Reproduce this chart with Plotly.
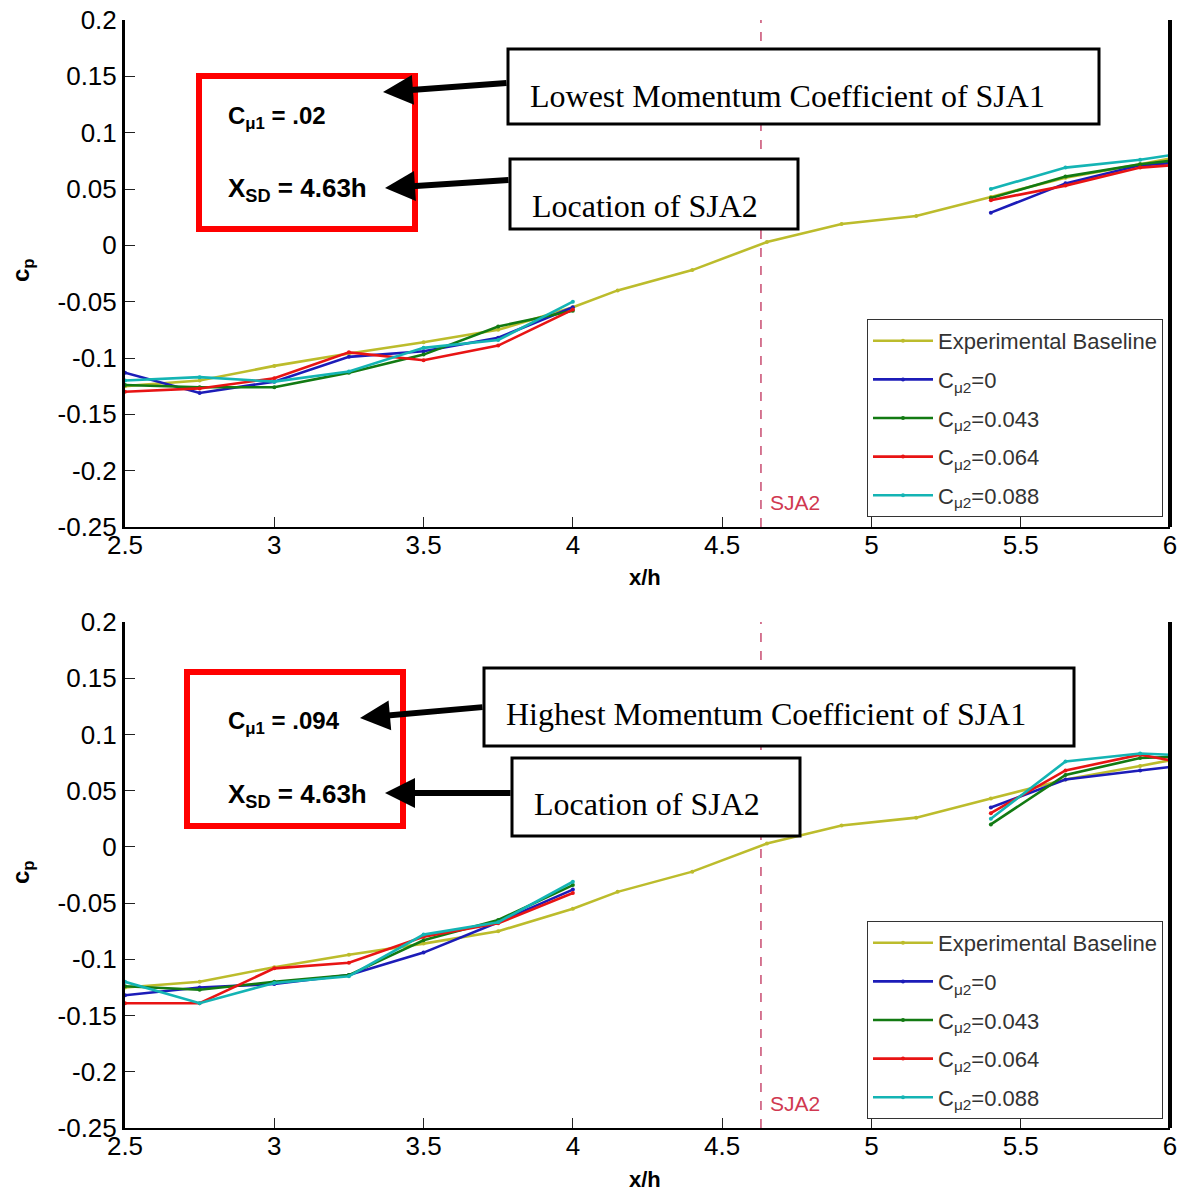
import plotly.graph_objects as go

W, H = 1188, 1192

# ---------------- data ----------------
x_base = [2.5, 2.75, 3.0, 3.25, 3.5, 3.75, 4.0, 4.15, 4.4, 4.65, 4.9, 5.15, 5.4, 5.65, 5.9, 6.0]
cp_base = [-0.125, -0.120, -0.107, -0.096, -0.086, -0.075, -0.055, -0.040, -0.022, 0.003,
           0.019, 0.026, 0.043, 0.060, 0.072, 0.077]

x_act = [2.5, 2.75, 3.0, 3.25, 3.5, 3.75, 4.0, None, 5.4, 5.65, 5.9, 6.0]

# top panel: C_mu1 = .02
top_c0 = [-0.113, -0.131, -0.121, -0.099, -0.094, -0.082, -0.055, None, 0.029, 0.055, 0.071, 0.073]
top_c043 = [-0.124, -0.126, -0.126, -0.113, -0.097, -0.072, -0.058, None, 0.042, 0.061, 0.072, 0.075]
top_c064 = [-0.130, -0.127, -0.118, -0.095, -0.102, -0.089, -0.057, None, 0.040, 0.053, 0.069, 0.071]
top_c088 = [-0.120, -0.117, -0.121, -0.112, -0.091, -0.084, -0.050, None, 0.050, 0.069, 0.076, 0.080]

# bottom panel: C_mu1 = .094
bot_c0 = [-0.132, -0.125, -0.122, -0.114, -0.094, -0.067, -0.038, None, 0.035, 0.060, 0.068, 0.071]
bot_c043 = [-0.124, -0.127, -0.120, -0.114, -0.083, -0.065, -0.034, None, 0.020, 0.064, 0.079, 0.080]
bot_c064 = [-0.139, -0.139, -0.108, -0.103, -0.080, -0.068, -0.041, None, 0.030, 0.068, 0.082, 0.077]
bot_c088 = [-0.120, -0.139, -0.121, -0.115, -0.078, -0.067, -0.031, None, 0.025, 0.076, 0.083, 0.082]

series_names = ["Experimental Baseline", "C<sub>μ2</sub>=0", "C<sub>μ2</sub>=0.043",
                "C<sub>μ2</sub>=0.064", "C<sub>μ2</sub>=0.088"]
series_colors = ["#bcbc2c", "#1c1cb8", "#127a12", "#e81414", "#14b4b4"]

y_tickvals = [0.2, 0.15, 0.1, 0.05, 0, -0.05, -0.1, -0.15, -0.2, -0.25]
y_ticktext = ["0.2", "0.15", "0.1", "0.05", "0", "-0.05", "-0.1", "-0.15", "-0.2", "-0.25"]
x_tickvals = [2.5, 3, 3.5, 4, 4.5, 5, 5.5, 6]
x_ticktext = ["2.5", "3", "3.5", "4", "4.5", "5", "5.5", "6"]

sja2_x = 4.63
top_cmu1 = "C<sub>μ1</sub> = .02"
bot_cmu1 = "C<sub>μ1</sub> = .094"
xsd_text = "X<sub>SD</sub> = 4.63h"
top_box_text = "Lowest Momentum Coefficient of SJA1"
bot_box_text = "Highest Momentum Coefficient of SJA1"
loc_text = "Location of SJA2"

# ---------------- helpers ----------------
def px(x):
    return x / W

def py(y):
    return 1 - y / H

ARIAL = "Liberation Sans, Arial, sans-serif"
TIMES = "Liberation Serif, Times New Roman, serif"

fig = go.Figure()

panels = [
    ("x", "y", "legend", "t", [cp_base, top_c0, top_c043, top_c064, top_c088]),
    ("x2", "y2", "legend2", "b", [cp_base, bot_c0, bot_c043, bot_c064, bot_c088]),
]
for xa, ya, lg, tag, ys in panels:
    for i, (name, col, yv) in enumerate(zip(series_names, series_colors, ys)):
        xv = x_base if i == 0 else x_act
        fig.add_trace(go.Scatter(
            x=xv, y=yv, name=name, mode="lines+markers",
            line=dict(color=col, width=2.6), marker=dict(color=col, size=4),
            xaxis=xa, yaxis=ya, legend=lg, legendgroup=f"{tag}{i}",
            connectgaps=False, showlegend=True,
        ))

# domains in pixels
x_dom = [px(125), px(1170)]
top_dom = [py(527), py(20)]
bot_dom = [py(1128), py(622)]

axis_x = dict(range=[2.5, 6], tickvals=x_tickvals, ticktext=x_ticktext,
              showline=True, linecolor="black", linewidth=1.5, ticks="inside",
              ticklen=10, tickcolor="#222", tickwidth=1, showgrid=False, zeroline=False,
              tickfont=dict(family=ARIAL, size=26, color="black"), automargin=False,
              ticklabelstandoff=-6)
axis_y = dict(range=[-0.25, 0.2], tickvals=y_tickvals, ticktext=y_ticktext,
              showline=True, linecolor="black", linewidth=3, ticks="inside",
              ticklen=10, tickcolor="#222", tickwidth=1, showgrid=False, zeroline=False,
              tickfont=dict(family=ARIAL, size=26, color="black"), automargin=False)

legend_common = dict(bgcolor="white", bordercolor="#333", borderwidth=1,
                     font=dict(family=ARIAL, size=22, color="#333"),
                     itemwidth=60, tracegroupgap=7, xanchor="right", yanchor="bottom",
                     itemclick=False, itemdoubleclick=False)

fig.update_layout(
    width=W, height=H, margin=dict(l=0, r=0, t=0, b=0),
    paper_bgcolor="white", plot_bgcolor="white",
    xaxis=dict(axis_x, domain=x_dom, anchor="y"),
    yaxis=dict(axis_y, domain=top_dom, anchor="x"),
    xaxis2=dict(axis_x, domain=x_dom, anchor="y2"),
    yaxis2=dict(axis_y, domain=bot_dom, anchor="x2"),
    legend=dict(legend_common, x=px(1163), y=py(517)),
    legend2=dict(legend_common, x=px(1163), y=py(1119)),
    showlegend=True,
)

shapes = []
annotations = []

def text_ann(text, x, y, size, family=ARIAL, xanchor="left", color="black", **kw):
    d = dict(text=text, xref="paper", yref="paper", x=px(x), y=py(y),
             xanchor=xanchor, yanchor="middle", showarrow=False,
             font=dict(family=family, size=size, color=color))
    d.update(kw)
    return d

for xa, ya, y0 in [("x", "y", 0), ("x2", "y2", 602)]:
    # SJA2 dashed line
    shapes.append(dict(type="line", xref=xa, yref=f"{ya} domain", x0=sja2_x, x1=sja2_x,
                       y0=0, y1=1, line=dict(color="#c0305a", width=1.3, dash="dash")))
    # thick right boundary
    shapes.append(dict(type="line", xref=f"{xa} domain", yref=f"{ya} domain", x0=1, x1=1,
                       y0=0, y1=1, line=dict(color="black", width=4)))
    annotations.append(dict(text="SJA2", xref=xa, yref=ya, x=sja2_x + 0.025, y=-0.228,
                            xanchor="left", yanchor="middle", showarrow=False,
                            font=dict(family=ARIAL, size=21, color="#d03850")))
    # axis labels
    annotations.append(text_ann("<b>x/h</b>", 645, 577 + y0, 22, xanchor="center"))
    annotations.append(text_ann("<b>c<sub>p</sub></b>", 22, 270 + y0, 24,
                                xanchor="center", textangle=-90))

def arrow(head_x, head_y, tail_x, tail_y):
    return dict(text="", xref="paper", yref="paper", x=px(head_x), y=py(head_y),
                ax=tail_x - head_x, ay=tail_y - head_y, showarrow=True, arrowhead=2,
                arrowsize=1, arrowwidth=6, arrowcolor="black", standoff=0)

# ----- top panel callouts -----
shapes.append(dict(type="rect", xref="paper", yref="paper", x0=px(199), x1=px(415),
                   y0=py(229), y1=py(76), line=dict(color="#ff0000", width=6)))
annotations.append(text_ann(f"<b>{top_cmu1}</b>", 226, 117, 24))
annotations.append(text_ann(f"<b>{xsd_text}</b>", 226, 190, 26))
shapes.append(dict(type="rect", xref="paper", yref="paper", x0=px(508), x1=px(1099),
                   y0=py(124), y1=py(49), line=dict(color="black", width=3),
                   fillcolor="white"))
annotations.append(text_ann(top_box_text, 528, 96, 32, family=TIMES))
shapes.append(dict(type="rect", xref="paper", yref="paper", x0=px(510), x1=px(798),
                   y0=py(229), y1=py(159), line=dict(color="black", width=3),
                   fillcolor="white"))
annotations.append(text_ann(loc_text, 530, 206, 32, family=TIMES))
annotations.append(arrow(383, 92, 508, 83))
annotations.append(arrow(385, 188, 510, 180))

# ----- bottom panel callouts -----
shapes.append(dict(type="rect", xref="paper", yref="paper", x0=px(187), x1=px(403),
                   y0=py(826), y1=py(672), line=dict(color="#ff0000", width=6)))
annotations.append(text_ann(f"<b>{bot_cmu1}</b>", 226, 722, 24))
annotations.append(text_ann(f"<b>{xsd_text}</b>", 226, 795, 26))
shapes.append(dict(type="rect", xref="paper", yref="paper", x0=px(484), x1=px(1074),
                   y0=py(746), y1=py(668), line=dict(color="black", width=3),
                   fillcolor="white"))
annotations.append(text_ann(bot_box_text, 504, 714, 32, family=TIMES))
shapes.append(dict(type="rect", xref="paper", yref="paper", x0=px(512), x1=px(800),
                   y0=py(836), y1=py(758), line=dict(color="black", width=3),
                   fillcolor="white"))
annotations.append(text_ann(loc_text, 532, 804, 32, family=TIMES))
annotations.append(arrow(360, 718, 484, 707))
annotations.append(arrow(385, 793, 512, 793))

fig.update_layout(shapes=shapes, annotations=annotations)
fig.write_html("out.html", config={"displayModeBar": False},
               post_script="document.body.style.margin='0';document.body.style.padding='0';")
